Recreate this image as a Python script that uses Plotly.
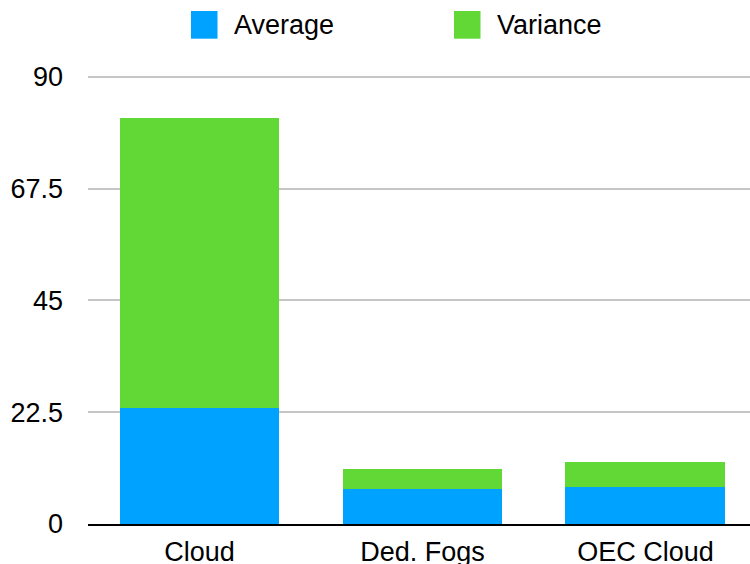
import plotly.graph_objects as go

categories = ["Cloud", "Ded. Fogs", "OEC Cloud"]
series_names = ["Average", "Variance"]
average = [23.4, 7.0, 7.4]
variance = [58.35, 4.05, 5.05]
y_ticks = [0, 22.5, 45, 67.5, 90]
y_tick_labels = ["0", "22.5", "45", "67.5", "90"]
colors = ["#00A2FF", "#61D836"]

font_family = "Liberation Sans, Arial, Helvetica, sans-serif"
W, H = 750, 564
ML, MR, MT, MB = 88, 0, 72, 40
PW, PH = W - ML - MR, H - MT - MB
Y_MAX = 91


def px_to_paper_x(px):
    return (px - ML) / PW


def px_to_paper_y(py):
    return (H - MB - py) / PH


fig = go.Figure()
for name, vals, col in zip(series_names, [average, variance], colors):
    fig.add_trace(go.Bar(name=name, x=categories, y=vals,
                         marker=dict(color=col, line=dict(width=0)), width=0.717,
                         showlegend=False))

# Custom legend (large square swatches like the reference)
legend_x = [191, 454]
shapes = []
annotations = []
for name, col, lx in zip(series_names, colors, legend_x):
    shapes.append(dict(type="rect", xref="paper", yref="paper",
                       x0=px_to_paper_x(lx), x1=px_to_paper_x(lx + 26.5),
                       y0=px_to_paper_y(38.7), y1=px_to_paper_y(11),
                       fillcolor=col, line=dict(width=0), layer="above"))
    annotations.append(dict(text=name, xref="paper", yref="paper",
                            x=px_to_paper_x(lx + 40.5), y=px_to_paper_y(24.5),
                            xanchor="left", yanchor="middle", showarrow=False,
                            font=dict(size=27, color="#000000")))

fig.update_layout(
    barmode="stack",
    width=W, height=H,
    margin=dict(l=ML, r=MR, t=MT, b=MB, autoexpand=False),
    paper_bgcolor="white", plot_bgcolor="white",
    font=dict(family=font_family, size=27, color="#000000"),
    showlegend=False,
    shapes=shapes,
    annotations=annotations,
    xaxis=dict(range=[-0.5, 2.469], showline=True, linecolor="#000000", linewidth=1.5,
               showgrid=False, ticks="", tickfont=dict(size=27), ticklabelstandoff=3,
               fixedrange=True),
    yaxis=dict(range=[0, Y_MAX], tickvals=y_ticks, ticktext=y_tick_labels,
               showgrid=True, gridcolor="#c6c6c6", gridwidth=1.5, zeroline=False,
               showline=False, ticks="", ticklabelstandoff=24, tickfont=dict(size=27),
               fixedrange=True),
)

fig.write_html("out.html", config={"displayModeBar": False},
               post_script="document.body.style.margin='0';document.body.style.overflow='hidden';")
